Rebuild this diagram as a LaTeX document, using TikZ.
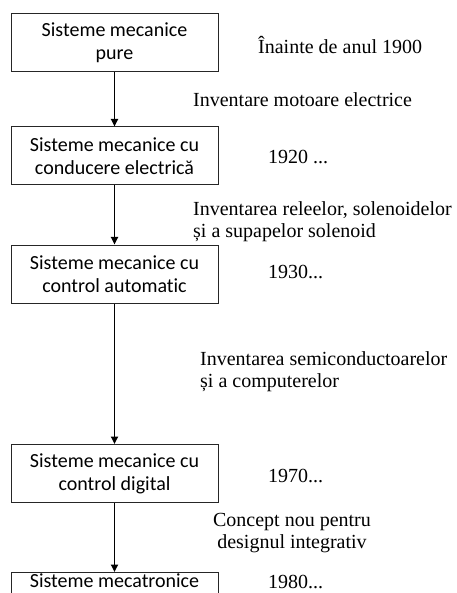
\documentclass[tikz,border=0pt]{standalone}
\usepackage{fontspec}
\setmainfont{Liberation Serif}
\newfontfamily\boxfont[Ligatures={NoCommon}]{Carlito}
\usetikzlibrary{arrows.meta}
\begin{document}
\begin{tikzpicture}[x=1pt,y=1pt,
  sysbox/.style={draw=black!85, line width=1pt, fill=white, minimum width=207pt, minimum height=58pt,
    align=center, inner sep=0pt, font=\boxfont\fontsize{20}{23}\selectfont},
  lbl/.style={inner sep=0pt, anchor=west, font=\fontsize{20}{22}\selectfont},
  flow/.style={line width=1.7pt, -{Triangle[length=7.5pt,width=7pt]}}
]
\useasboundingbox (0,0) rectangle (456,-593);
\clip (0,0) rectangle (456,-593);
\fill[white] (0,0) rectangle (456,-593);

\node[sysbox] (b1) at (114.5,-43) {Sisteme mecanice\\pure};
\node[sysbox] (b2) at (114.5,-156) {Sisteme mecanice cu\\conducere electrică};
\node[sysbox] (b3) at (114.5,-274) {Sisteme mecanice cu\\control automatic};
\node[sysbox] (b4) at (114.5,-473.5) {Sisteme mecanice cu\\control digital};
\node[sysbox, anchor=north, minimum height=0pt, inner ysep=1pt, text height=14pt, text depth=10pt] (b5) at (114.5,-572) {Sisteme mecatronice};

\draw[flow] (b1) -- (b2);
\draw[flow] (b2) -- (b3);
\draw[flow] (b3) -- (b4);
\draw[flow] (b4) -- (b5);

\node[lbl] (t1) at (258,-45) {Înainte de anul 1900};
\node[lbl] (t2) at (193,-100) {Inventare motoare electrice};
\node[lbl] (t3) at (268,-157) {1920 ...};
\node[lbl, align=left] (t4) at (193,-222) {Inventarea releelor, solenoidelor\\și a supapelor solenoid};
\node[lbl] (t5) at (268,-272) {1930...};
\node[lbl, align=left] (t6) at (200,-372) {Inventarea semiconductoarelor\\și a computerelor};
\node[lbl] (t7) at (268,-476) {1970...};
\node[inner sep=0pt, align=center, font=\fontsize{20}{22}\selectfont] (t8) at (292,-533.5) {Concept nou pentru\\designul integrativ};
\node[lbl] (t9) at (268,-582) {1980...};
\end{tikzpicture}
\end{document}
